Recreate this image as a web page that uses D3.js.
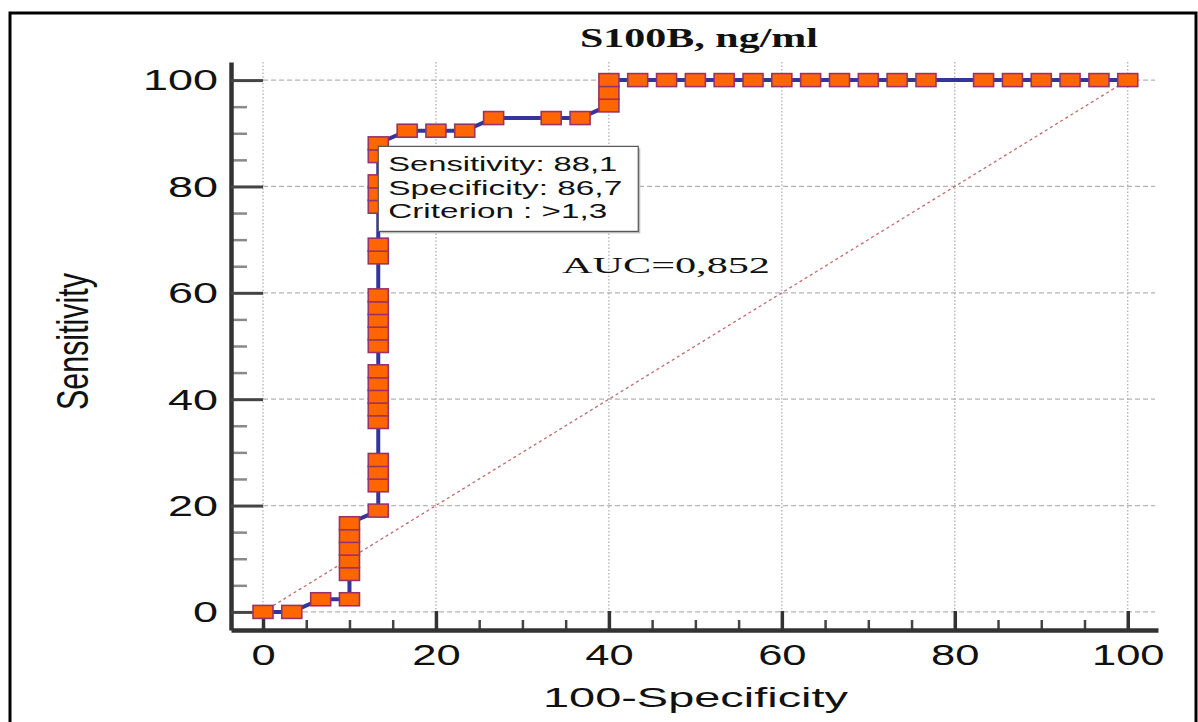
<!DOCTYPE html>
<html>
<head>
<meta charset="utf-8">
<script src="https://cdn.jsdelivr.net/npm/d3@7"></script>
<style>
  html, body { margin: 0; padding: 0; background: #fff; }
  svg { display: block; }
</style>
</head>
<body>
<svg id="chart" width="1198" height="722"></svg>
<script>
// ---- data ----
const title = "S100B, ng/ml";
const xLabel = "100-Specificity";
const yLabel = "Sensitivity";
const aucLabel = "AUC=0,852";
const criterionLines = ["Sensitivity: 88,1", "Specificity: 86,7", "Criterion : >1,3"];
const criterionPoint = [13.33, 88.10];

const oneMinusSpec = [
  0, 3.33, 6.67, 10, 10, 10, 10, 10, 10,
  13.33, 13.33, 13.33, 13.33, 13.33, 13.33, 13.33, 13.33, 13.33, 13.33, 13.33,
  13.33, 13.33, 13.33, 13.33, 13.33, 13.33, 13.33, 13.33, 13.33, 13.33,
  16.67, 20, 23.33, 26.67, 33.33, 36.67, 40, 40, 40,
  43.33, 46.67, 50, 53.33, 56.67, 60, 63.33, 66.67, 70, 73.33, 76.67,
  83.33, 86.67, 90, 93.33, 96.67, 100
];
const sensitivity = [
  0, 0, 2.38, 2.38, 7.14, 9.52, 11.90, 14.29, 16.67,
  19.05, 23.81, 26.19, 28.57, 35.71, 38.10, 40.48, 42.86, 45.24, 50.00, 52.38,
  54.76, 57.14, 59.52, 66.67, 69.05, 76.19, 78.57, 80.95, 85.71, 88.10,
  90.48, 90.48, 90.48, 92.86, 92.86, 92.86, 95.24, 97.62, 100,
  100, 100, 100, 100, 100, 100, 100, 100, 100, 100, 100,
  100, 100, 100, 100, 100, 100
];
const majorTicks = [0, 20, 40, 60, 80, 100];
const minorTicks = [5, 10, 15, 25, 30, 35, 45, 50, 55, 65, 70, 75, 85, 90, 95];
const diagonal = [[0, 0], [100, 100]];

// ---- layout ----
const svg = d3.select("#chart");
const x = d3.scaleLinear().domain([-3.7, 103.5]).range([231, 1158]);
const y = d3.scaleLinear().domain([-3.4, 103.4]).range([630, 62]);
const SANS = "'Liberation Sans', Arial, sans-serif";
const SERIF = "'Liberation Serif', 'Times New Roman', serif";

function stretch(sel, factor) {
  sel.each(function () {
    const w = this.getComputedTextLength();
    d3.select(this).attr("textLength", w * factor).attr("lengthAdjust", "spacingAndGlyphs");
  });
}

// outer frame
svg.append("rect").attr("x", 10).attr("y", 13).attr("width", 1186).attr("height", 730)
  .attr("fill", "none").attr("stroke", "#000").attr("stroke-width", 3);

// gridlines
const grid = svg.append("g");
grid.selectAll("line.h").data(majorTicks).join("line")
  .attr("x1", x(0)).attr("x2", 1155)
  .attr("y1", d => y(d)).attr("y2", d => y(d))
  .attr("stroke", "#b4b4b4").attr("stroke-width", 1.2).attr("stroke-dasharray", "5,3");
grid.selectAll("line.v").data(majorTicks).join("line")
  .attr("x1", d => x(d)).attr("x2", d => x(d))
  .attr("y1", 62).attr("y2", y(0))
  .attr("stroke", "#aaaaaa").attr("stroke-width", 1.2).attr("stroke-dasharray", "1.5,2");

// axes
const yAxisMinor = svg.append("g").attr("transform", `translate(${x.range()[0]},0)`)
  .call(d3.axisLeft(y).tickValues(minorTicks).tickSizeInner(-16).tickSizeOuter(0).tickFormat(""));
yAxisMinor.select(".domain").remove();
yAxisMinor.selectAll(".tick line").attr("stroke", "#8a8a8a").attr("stroke-width", 2.5);

const xAxisMinor = svg.append("g").attr("transform", `translate(0,${y.range()[0]})`)
  .call(d3.axisBottom(x).tickValues(minorTicks).tickSizeInner(-10).tickSizeOuter(0).tickFormat(""));
xAxisMinor.select(".domain").remove();
xAxisMinor.selectAll(".tick line").attr("stroke", "#444").attr("stroke-width", 2.5);

const yAxis = svg.append("g").attr("transform", `translate(${x.range()[0]},0)`)
  .call(d3.axisLeft(y).tickValues(majorTicks).tickSizeInner(-32).tickSizeOuter(0).tickPadding(13));
yAxis.select(".domain").attr("stroke", "#333").attr("stroke-width", 4.5);
yAxis.selectAll(".tick line").attr("stroke", "#444").attr("stroke-width", 3);
yAxis.selectAll(".tick text")
  .attr("font-family", SANS).attr("font-size", 29).attr("fill", "#111")
  .attr("x", -13).attr("dy", "0.34em");
stretch(yAxis.selectAll(".tick text"), 1.55);

const xAxis = svg.append("g").attr("transform", `translate(0,${y.range()[0]})`)
  .call(d3.axisBottom(x).tickValues(majorTicks).tickSizeInner(-19).tickSizeOuter(0));
xAxis.select(".domain").attr("stroke", "#333").attr("stroke-width", 4.5);
xAxis.selectAll(".tick line").attr("stroke", "#333").attr("stroke-width", 3.5);
xAxis.selectAll(".tick text")
  .attr("font-family", SANS).attr("font-size", 29).attr("fill", "#111")
  .attr("y", 35).attr("dy", 0);
stretch(xAxis.selectAll(".tick text"), 1.5);

// chance diagonal
svg.append("path")
  .attr("d", d3.line().x(d => x(d[0])).y(d => y(d[1]))(diagonal))
  .attr("fill", "none").attr("stroke", "#c46b6b").attr("stroke-width", 1.3)
  .attr("stroke-dasharray", "3,3");

// ROC curve
const pts = oneMinusSpec.map((v, i) => [v, sensitivity[i]]);
svg.append("path")
  .attr("d", d3.line().x(d => x(d[0])).y(d => y(d[1]))(pts))
  .attr("fill", "none").attr("stroke", "#34349a").attr("stroke-width", 4)
  .attr("stroke-linejoin", "round");

const mw = 20, mh = 13;
svg.append("g").selectAll("rect").data(pts).join("rect")
  .attr("x", d => x(d[0]) - mw / 2).attr("y", d => y(d[1]) - mh / 2)
  .attr("width", mw).attr("height", mh)
  .attr("fill", "#ff6600").attr("stroke", "#993366").attr("stroke-width", 1.6);

// criterion box
const bx = x(criterionPoint[0]), by = y(criterionPoint[1]) + 3;
const bw = 260, bh = 85;
svg.append("rect").attr("x", bx + 2).attr("y", by + 2).attr("width", bw).attr("height", bh)
  .attr("fill", "#bdbdbd");
svg.append("rect").attr("x", bx).attr("y", by).attr("width", bw).attr("height", bh)
  .attr("fill", "#fff").attr("stroke", "#555").attr("stroke-width", 1.2);
const critWidths = [229, 234, 219];
svg.append("g").selectAll("text").data(criterionLines).join("text")
  .attr("x", bx + 10).attr("y", (d, i) => by + 25 + i * 23.5)
  .attr("font-family", SANS).attr("font-size", 19.5).attr("fill", "#111")
  .text(d => d)
  .attr("textLength", (d, i) => critWidths[i]).attr("lengthAdjust", "spacingAndGlyphs");

// AUC label
svg.append("text").attr("x", 562).attr("y", 273)
  .attr("font-family", SERIF).attr("font-size", 24).attr("fill", "#111")
  .text(aucLabel).attr("textLength", 208).attr("lengthAdjust", "spacingAndGlyphs");

// title
svg.append("text").attr("x", 699).attr("y", 47).attr("text-anchor", "middle")
  .attr("font-family", SERIF).attr("font-weight", "bold").attr("font-size", 28).attr("fill", "#111")
  .text(title).attr("textLength", 238).attr("lengthAdjust", "spacingAndGlyphs");

// axis titles
svg.append("text").attr("x", 695.5).attr("y", 707).attr("text-anchor", "middle")
  .attr("font-family", SANS).attr("font-size", 27).attr("fill", "#111")
  .text(xLabel).attr("textLength", 305).attr("lengthAdjust", "spacingAndGlyphs");

svg.append("text")
  .attr("transform", "translate(88,341.5) scale(1.45,1) rotate(-90)")
  .attr("text-anchor", "middle")
  .attr("font-family", SANS).attr("font-size", 30).attr("fill", "#111")
  .text(yLabel).attr("textLength", 137).attr("lengthAdjust", "spacingAndGlyphs");
</script>
</body>
</html>
